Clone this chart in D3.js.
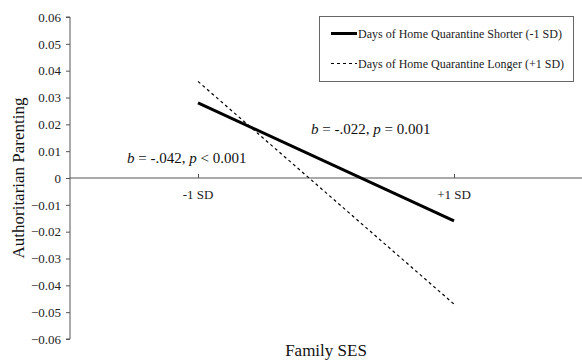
<!DOCTYPE html>
<html><head><meta charset="utf-8">
<script src="https://cdn.jsdelivr.net/npm/d3@7"></script>
<style>body{margin:0;background:#fff}svg{display:block}</style>
</head><body><svg id="c" width="582" height="360"></svg>
<script>
const categories = ["-1 SD", "+1 SD"];
const catPos = [-1, 1];
const shorterValues = [0.028, -0.016];
const longerValues = [0.036, -0.047];
const seriesNames = ["Days of Home Quarantine Shorter (-1 SD)", "Days of Home Quarantine Longer (+1 SD)"];
const yTicks = [0.06,0.05,0.04,0.03,0.02,0.01,0,-0.01,-0.02,-0.03,-0.04,-0.05,-0.06];
const FF = '"Liberation Serif", "Times New Roman", serif';

const svg = d3.select("#c");
const x = d3.scaleLinear().domain([-2, 2]).range([70, 582]);
const y = d3.scaleLinear().domain([-0.06, 0.06]).range([339, 17]);

// y axis
const yAxis = d3.axisLeft(y).tickValues(yTicks).tickSize(4).tickPadding(5)
  .tickFormat(d => d === 0 ? "0" : d3.format(".2f")(d));
const gy = svg.append("g").attr("transform", "translate(70,0)").call(yAxis);
gy.attr("font-family", null);
gy.selectAll("path,line").attr("stroke", "#555");
gy.select("path").attr("d", `M-4,${y(0.06)}H0V${y(-0.06)}H-4`);
gy.selectAll("text").style("font-size", "13px").style("font-family", FF).attr("fill", "#222");

// x axis at zero
const xAxis = d3.axisTop(x).tickValues(catPos).tickSize(4).tickFormat("");
const gx = svg.append("g").attr("transform", `translate(0,${y(0)})`).call(xAxis);
gx.select("path").attr("d", `M70,0H582`).attr("stroke", "#555");
gx.selectAll("line").attr("stroke", "#555");
svg.selectAll(".xl").data(categories).enter().append("text")
  .attr("x", (d, i) => x(catPos[i])).attr("y", y(0) + 21)
  .attr("text-anchor", "middle").style("font-family", FF).style("font-size", "13px").attr("fill", "#222").text(d => d);

// lines
const line = d3.line().x((d, i) => x(catPos[i])).y(d => y(d));
svg.append("path").attr("d", line(shorterValues)).attr("fill", "none").attr("stroke", "#000").attr("stroke-width", 3);
svg.append("path").attr("d", line(longerValues)).attr("fill", "none").attr("stroke", "#000").attr("stroke-width", 1.2).attr("stroke-dasharray", "3,3");

// annotations
function annot(xp, yp, bval, pop, pval) {
  const t = svg.append("text").attr("x", xp).attr("y", yp).style("font-family", FF).style("font-size", "15px").attr("fill", "#111");
  t.append("tspan").attr("font-style", "italic").text("b");
  t.append("tspan").text(` = ${bval}, `);
  t.append("tspan").attr("font-style", "italic").text("p");
  t.append("tspan").text(` ${pop} ${pval}`);
}
annot(311, 134, "-.022", "=", "0.001");
annot(127, 163, "-.042", "<", "0.001");

// legend
const lg = svg.append("g");
lg.append("rect").attr("x", 319.5).attr("y", 16.5).attr("width", 254).attr("height", 65).attr("fill", "#fff").attr("stroke", "#666");
[0, 1].forEach(i => {
  const yy = 33.5 + i * 30;
  lg.append("line").attr("x1", 331).attr("x2", 357).attr("y1", yy).attr("y2", yy)
    .attr("stroke", "#000").attr("stroke-width", i === 0 ? 3 : 1.2).attr("stroke-dasharray", i === 0 ? null : "3,3");
  lg.append("text").attr("x", 358).attr("y", yy + 4).style("font-family", FF).style("font-size", "12px").attr("fill", "#222").text(seriesNames[i]);
});

// titles
svg.append("text").attr("transform", `translate(24,${y(0)}) rotate(-90)`).attr("text-anchor", "middle")
  .style("font-family", FF).style("font-size", "17px").attr("fill", "#111").text("Authoritarian Parenting");
svg.append("text").attr("x", 326).attr("y", 356).attr("text-anchor", "middle")
  .style("font-family", FF).style("font-size", "17px").attr("fill", "#111").text("Family SES");
</script></body></html>
